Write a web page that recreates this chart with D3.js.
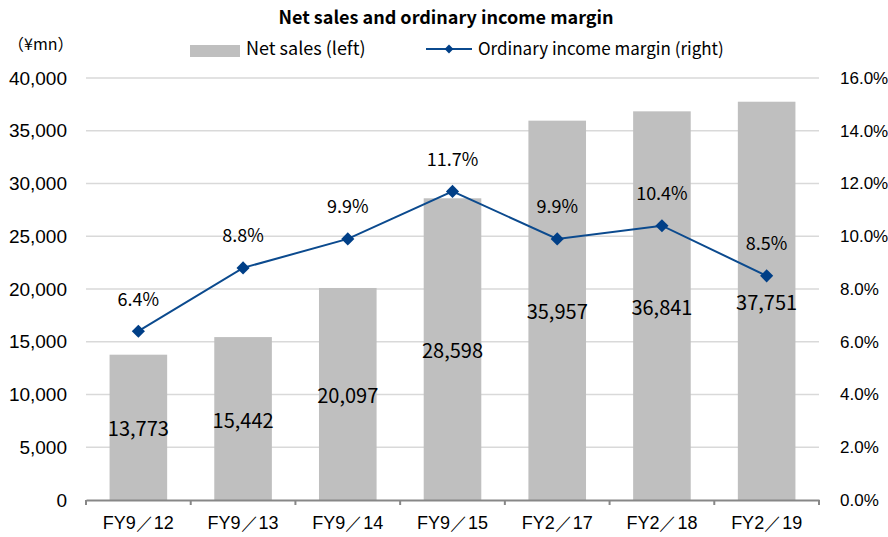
<!DOCTYPE html>
<html><head><meta charset="utf-8">
<script src="https://cdn.jsdelivr.net/npm/d3@7"></script>
<style>body{margin:0;background:#fff}svg{display:block;font-family:"Noto Sans CJK JP","Noto Sans",sans-serif}</style>
</head><body><svg id="c" width="888" height="537"></svg>
<script>
const categories = ["FY9／12","FY9／13","FY9／14","FY9／15","FY2／17","FY2／18","FY2／19"];
const netSales = [13773,15442,20097,28598,35957,36841,37751];
const margin = [6.4,8.8,9.9,11.7,9.9,10.4,8.5];
const leftTicks = [0,5000,10000,15000,20000,25000,30000,35000,40000];
const rightTicks = [0,2,4,6,8,10,12,14,16];

const svg = d3.select("#c");
const L = 86, R = 819, T = 78, B = 500;
const x = d3.scaleBand().domain(categories).range([L, R]).paddingInner(0.45).paddingOuter(0.225);
const xo = d3.scaleBand().domain(categories).range([L, R]);
const yL = d3.scaleLinear().domain([0,40000]).range([B, T]);
const yR = d3.scaleLinear().domain([0,16]).range([B, T]);
const fmt = d3.format(",");

// gridlines
svg.append("g").selectAll("line").data(leftTicks.slice(1)).join("line")
  .attr("x1", L).attr("x2", R).attr("y1", d=>yL(d)).attr("y2", d=>yL(d))
  .attr("stroke", "#d9d9d9").attr("stroke-width", 1.3);

// bars
svg.append("g").selectAll("rect").data(netSales).join("rect")
  .attr("x", (d,i)=>x(categories[i])).attr("width", x.bandwidth())
  .attr("y", d=>yL(d)).attr("height", d=>B - yL(d)).attr("fill", "#bfbfbf");

// x axis
const xAxis = d3.axisBottom(xo).tickSize(0).tickPadding(16);
const gx = svg.append("g").attr("transform", `translate(0,${B})`).call(xAxis);
gx.select(".domain").attr("stroke", "#878787").attr("stroke-width", 2.2);
gx.selectAll("text").attr("font-size", 18).attr("fill", "#000");
svg.append("g").selectAll("line").data(d3.range(categories.length + 1)).join("line")
  .attr("x1", i => L + i * xo.step()).attr("x2", i => L + i * xo.step())
  .attr("y1", B).attr("y2", B + 5).attr("stroke", "#878787").attr("stroke-width", 2);

// left axis
const gl = svg.append("g").attr("transform", `translate(${L},0)`)
  .call(d3.axisLeft(yL).tickValues(leftTicks).tickFormat(fmt).tickSize(0).tickPadding(19));
gl.select(".domain").remove();
gl.selectAll("text").attr("font-size", 19).attr("fill", "#000");

// right axis
const gr = svg.append("g").attr("transform", `translate(${R},0)`)
  .call(d3.axisRight(yR).tickValues(rightTicks).tickFormat(d=>d.toFixed(1)+"%").tickSize(0).tickPadding(21));
gr.select(".domain").remove();
gr.selectAll("text").attr("font-size", 17).attr("fill", "#000");

// bar labels
svg.append("g").selectAll("text").data(netSales).join("text")
  .attr("x", (d,i)=>xo(categories[i]) + xo.bandwidth()/2)
  .attr("y", d=> (yL(d)+B)/2 + 2).attr("dy", "0.35em")
  .attr("text-anchor", "middle").attr("font-size", 20).attr("fill", "#000")
  .text(d=>fmt(d));

// line
const cx = i => xo(categories[i]) + xo.bandwidth()/2;
const line = d3.line().x((d,i)=>cx(i)).y(d=>yR(d));
svg.append("path").datum(margin).attr("d", line).attr("fill","none")
  .attr("stroke", "#0b4a8e").attr("stroke-width", 2);
const sym = d3.symbol().type(d3.symbolDiamond2).size(110);
svg.append("g").selectAll("path").data(margin).join("path")
  .attr("d", sym).attr("transform", (d,i)=>`translate(${cx(i)},${yR(d)})`)
  .attr("fill", "#003f87");
svg.append("g").selectAll("text").data(margin).join("text")
  .attr("x", (d,i)=>cx(i)).attr("y", d=>yR(d) - 32).attr("dy","0.35em")
  .attr("text-anchor","middle").attr("font-size", 18).attr("fill","#000")
  .text(d=>d.toFixed(1)+"%");

// title
svg.append("text").attr("x", 446).attr("y", 18).attr("dy","0.35em").attr("text-anchor","middle")
  .attr("font-size", 18).attr("font-weight","bold").text("Net sales and ordinary income margin");
// unit
svg.append("text").attr("x", 8).attr("y", 44).attr("dy","0.35em")
  .attr("font-size", 16).text("（¥mn）");
// legend
svg.append("rect").attr("x", 190).attr("y", 45).attr("width", 50).attr("height", 12).attr("fill","#bfbfbf");
svg.append("text").attr("x", 246).attr("y", 49).attr("dy","0.35em").attr("font-size",18).text("Net sales (left)");
svg.append("line").attr("x1", 426).attr("x2", 472).attr("y1", 49).attr("y2", 49).attr("stroke","#0b4a8e").attr("stroke-width",2);
svg.append("path").attr("d", d3.symbol().type(d3.symbolDiamond2).size(50)).attr("transform","translate(449,49)").attr("fill","#003f87");
svg.append("text").attr("x", 478).attr("y", 49).attr("dy","0.35em").attr("font-size",17).text("Ordinary income margin (right)");
</script></body></html>
